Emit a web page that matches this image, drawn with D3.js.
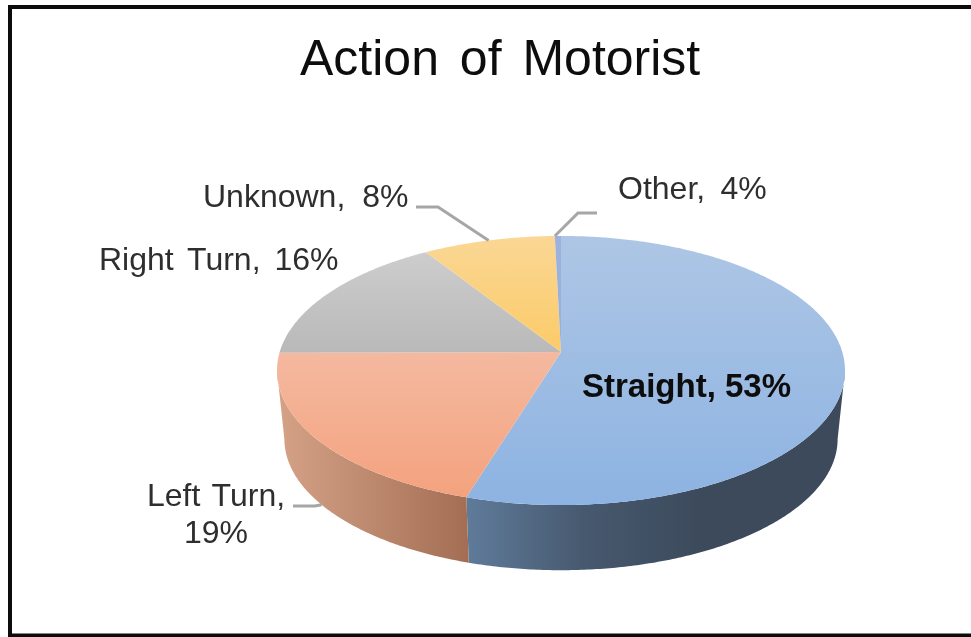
<!DOCTYPE html>
<html>
<head>
<meta charset="utf-8">
<script src="https://cdn.jsdelivr.net/npm/d3@7"></script>
<style>
  html, body { margin: 0; padding: 0; background: #fff; }
  svg { display: block; }
  text { font-family: "Liberation Sans", Arial, sans-serif; white-space: pre; }
</style>
</head>
<body>
<svg id="chart" width="971" height="637"></svg>
<script>
var chartTitle = 'Action of Motorist';
var categories = ['Straight', 'Left Turn', 'Right Turn', 'Unknown', 'Other'];
// what the labels say
var labelPercents = [53, 19, 16, 8, 4];
// how much of the disc each slice really takes in the picture (Other is only a sliver)
var sliceShares = [54.72, 20.18, 16.1, 8.6, 0.4];

var topColors = [['#aec6e5', '#8db3e2'], ['#f4b9a0', '#f4a27e'], ['#cdcdcd', '#b9b9b9'], ['#fad795', '#fccb69'], ['#9db3de', '#98afdc']];
var wallColors = {
    0: [[0, '#5f7b9a'], [0.5, '#47596f'], [1, '#3c4a5c']],
    1: [[0, '#d5a288'], [1, '#a36e54']]
};

var svg = d3.select('#chart'),
    defs = svg.append('defs');

// the reference is a slightly soft screenshot
defs.append('filter').attr('id', 'soft')
    .append('feGaussianBlur').attr('stdDeviation', 0.45);

// disc projection, camera tilted so the front rim comes out larger than the back
var perspective = 0.1375;
var topDisc = {cx: 561, cy: 352, rx: 281.3, ry: 132},
    bottomDisc = {cx: 561, cy: 421, rx: 274, ry: 128.7};

function project(disc, angle) {
    var x = Math.sin(angle),
        y = -Math.cos(angle),
        w = 1 - perspective * y;
    return [disc.cx + disc.rx * x / w, disc.cy + disc.ry * y / w];
}

function rim(disc, a0, a1) {
    var n = Math.max(2, Math.ceil(Math.abs(a1 - a0) / 0.01));
    return d3.range(n + 1).map(function(i) {
        return project(disc, a0 + (a1 - a0) * i / n);
    });
}

var line = d3.line();

var arcs = d3.pie().sort(null).value(function(d) { return d; })(sliceShares);

// where the rim turns away from the viewer, the wall's silhouette runs between these
var silhouette = Math.acos(-perspective);

// outer walls, only the two front slices show one
var wallRanges = [
    [silhouette, arcs[0].endAngle],
    [arcs[1].startAngle, 2 * Math.PI - silhouette]
];

wallRanges.forEach(function(range, idx) {
    var x0 = idx == 0 ? 467 : 277,
        x1 = idx == 0 ? 700 : 467,
        id = 'wall' + idx;

    var grad = defs.append('linearGradient')
        .attr('id', id)
        .attr('gradientUnits', 'userSpaceOnUse')
        .attr('x1', x0).attr('x2', x1).attr('y1', 0).attr('y2', 0);
    wallColors[idx].forEach(function(stop) {
        grad.append('stop').attr('offset', stop[0]).attr('stop-color', stop[1]);
    });

    var pts = rim(topDisc, range[0], range[1]).concat(rim(bottomDisc, range[1], range[0]));
    svg.append('path')
        .attr('d', line(pts) + 'Z')
        .attr('fill', 'url(#' + id + ')');
});

// leader lines
var leaderColor = '#a6a6a6';
function leader(points) {
    svg.append('path')
        .attr('d', line(points))
        .attr('fill', 'none')
        .attr('stroke', leaderColor)
        .attr('stroke-width', 3);
}
function midAngle(a) { return (a.startAngle + a.endAngle) / 2; }

// top face
arcs.forEach(function(a, idx) {
    var id = 'top' + idx;
    var grad = defs.append('linearGradient')
        .attr('id', id)
        .attr('x1', 0).attr('x2', 0).attr('y1', 0).attr('y2', 1);
    grad.append('stop').attr('offset', 0).attr('stop-color', topColors[idx][0]);
    grad.append('stop').attr('offset', 1).attr('stop-color', topColors[idx][1]);

    var pts = [[topDisc.cx, topDisc.cy]].concat(rim(topDisc, a.startAngle, a.endAngle));
    svg.append('path')
        .attr('d', line(pts) + 'Z')
        .attr('fill', 'url(#' + id + ')');
});

var unknownEnd = project(topDisc, midAngle(arcs[3])),
    otherEnd = project(topDisc, midAngle(arcs[4])),
    leftEnd = project(bottomDisc, midAngle(arcs[1]));

leader([[416, 207], [438, 207], unknownEnd]);
leader([[597, 213], [578, 213], [otherEnd[0] - 3, otherEnd[1]]]);
leader([[293, 506], [315, 506], leftEnd]);

// frame has no right side
svg.append('path')
    .attr('d', 'M971,7H10V635.5H971')
    .attr('fill', 'none')
    .attr('stroke', '#0c0c0c')
    .attr('stroke-width', 4);

var labels = svg.append('g').attr('filter', 'url(#soft)');

labels.append('text')
    .attr('x', 300).attr('y', 75)
    .attr('font-size', 50)
    .attr('word-spacing', 7)
    .attr('fill', '#111')
    .text(chartTitle);

function labelText(idx) {
    return categories[idx] + ', ' + labelPercents[idx] + '%';
}

var labelColor = '#2e2e2e',
    labelSize = 32;

labels.append('text').attr('x', 582).attr('y', 397)
    .attr('font-size', 33).attr('font-weight', 'bold').attr('fill', '#0a0a0a')
    .text(labelText(0));

var leftLabel = labels.append('text').attr('font-size', labelSize).attr('fill', labelColor).attr('text-anchor', 'middle');
leftLabel.append('tspan').attr('x', 216).attr('y', 506).attr('word-spacing', 3).text(categories[1] + ',');
leftLabel.append('tspan').attr('x', 216).attr('y', 543).text(labelPercents[1] + '%');

labels.append('text').attr('x', 99).attr('y', 270)
    .attr('font-size', labelSize).attr('fill', labelColor).attr('word-spacing', 5)
    .text(labelText(2));
labels.append('text').attr('x', 203).attr('y', 207)
    .attr('font-size', labelSize).attr('fill', labelColor).attr('word-spacing', 8)
    .text(labelText(3));
labels.append('text').attr('x', 618).attr('y', 199)
    .attr('font-size', labelSize).attr('fill', labelColor).attr('word-spacing', 6.5)
    .text(labelText(4));
</script>
</body>
</html>
